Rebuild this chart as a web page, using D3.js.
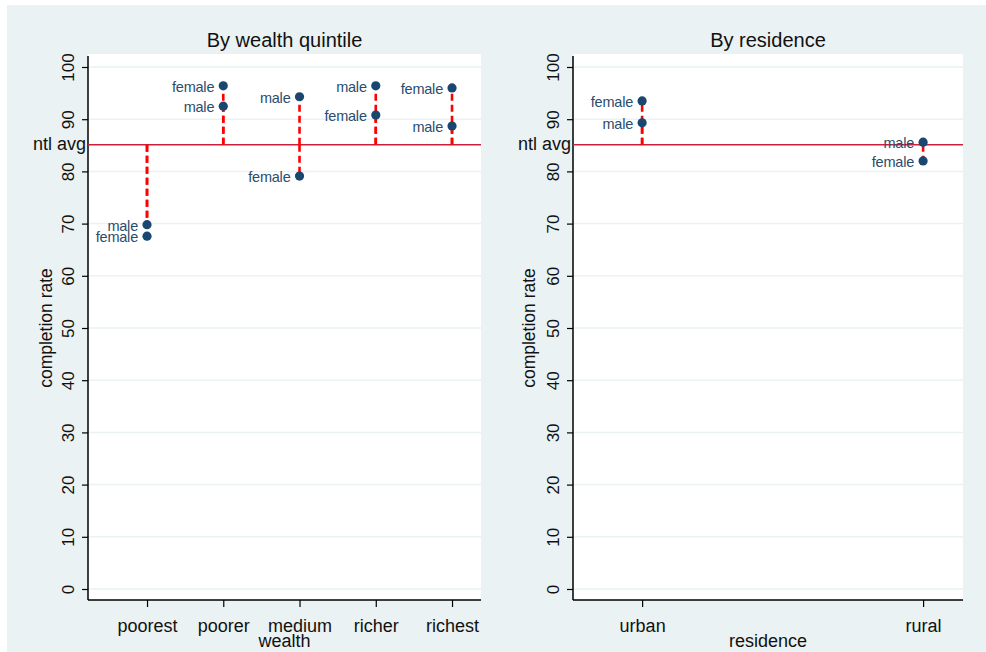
<!DOCTYPE html>
<html><head><meta charset="utf-8">
<script src="https://cdn.jsdelivr.net/npm/d3@7"></script>
<style>body{margin:0;background:#fff}svg{display:block}text{font-family:Arial,"Liberation Sans",sans-serif}</style>
</head><body><svg id="c" width="986" height="652"></svg>
<script>
// ---- data ----
const wealthCats = ["poorest","poorer","medium","richer","richest"];
const wealthMale = [69.8, 92.5, 94.3, 96.4, 88.7];
const wealthFemale = [67.6, 96.4, 79.1, 90.8, 96.0];
const resCats = ["urban","rural"];
const resMale = [89.3, 85.6];
const resFemale = [93.5, 82.0];
const ntlAvg = 85.1;
const yTicks = [0,10,20,30,40,50,60,70,80,90,100];

const svg = d3.select("#c");
svg.append("rect").attr("x",7).attr("y",5).attr("width",979).attr("height",647).attr("fill","#eaf2f3");

const yScale = d3.scaleLinear().domain([0,100]).range([589,67]);
const plotTop = 54, plotBottom = 600;

function panel(opt){
  const {x0,x1,dom,cats,male,female,title,xtitle,ytitleX} = opt;
  const x = d3.scaleLinear().domain(dom).range([x0,x1]);
  const g = svg.append("g");
  g.append("rect").attr("x",x0).attr("y",plotTop).attr("width",x1-x0).attr("height",plotBottom-plotTop).attr("fill","#fff");
  // grid
  g.selectAll(".grid").data(yTicks).enter().append("line")
    .attr("x1",x0).attr("x2",x1).attr("y1",d=>yScale(d)).attr("y2",d=>yScale(d))
    .attr("stroke","#eaf2f3").attr("stroke-width",1.5);
  // y axis
  const ya = g.append("g").attr("transform",`translate(${x0},0)`)
    .call(d3.axisLeft(yScale).tickValues(yTicks).tickSize(6).tickPadding(3));
  ya.select(".domain").remove();
  ya.selectAll(".tick line").attr("stroke","#000").attr("stroke-width",1.2);
  ya.selectAll(".tick text").attr("transform","rotate(-90)").attr("text-anchor","middle")
    .attr("x",0).attr("y",-14).attr("dy","0").attr("font-size",17).attr("fill","#111");
  g.append("line").attr("x1",x0).attr("x2",x0).attr("y1",plotTop+2).attr("y2",plotBottom).attr("stroke","#000").attr("stroke-width",1.5);
  // x axis
  const idx = cats.map((c,i)=>i+1);
  const xa = g.append("g").attr("transform",`translate(0,${plotBottom})`)
    .call(d3.axisBottom(x).tickValues(idx).tickFormat(d=>cats[d-1]).tickSize(7).tickPadding(12));
  xa.select(".domain").remove();
  xa.selectAll(".tick line").attr("stroke","#000").attr("stroke-width",1.2);
  xa.selectAll(".tick text").attr("font-size",18).attr("fill","#111");
  g.append("line").attr("x1",x0).attr("x2",x1).attr("y1",plotBottom).attr("y2",plotBottom).attr("stroke","#000").attr("stroke-width",1.5);
  // ntl avg
  g.append("line").attr("x1",x0).attr("x2",x1).attr("y1",yScale(ntlAvg)).attr("y2",yScale(ntlAvg))
    .attr("stroke","#c8203c").attr("stroke-width",1.5);
  g.append("text").attr("x",x0-2).attr("y",yScale(ntlAvg)+5.5).attr("text-anchor","end")
    .attr("font-size",18).attr("fill","#111").text("ntl avg");
  // spikes
  const pts = [];
  cats.forEach((c,i)=>{
    pts.push({i:i+1,v:male[i],lab:"male"});
    pts.push({i:i+1,v:female[i],lab:"female"});
  });
  g.selectAll(".spike").data(pts).enter().append("line")
    .attr("x1",d=>x(d.i)).attr("x2",d=>x(d.i)).attr("y1",yScale(ntlAvg)).attr("y2",d=>yScale(d.v))
    .attr("stroke","#ff0000").attr("stroke-width",2.6).attr("stroke-dasharray","7,4");
  g.selectAll(".pt").data(pts).enter().append("circle")
    .attr("cx",d=>x(d.i)).attr("cy",d=>yScale(d.v)).attr("r",4.6).attr("fill","#1a476f");
  g.selectAll(".lab").data(pts).enter().append("text")
    .attr("x",d=>x(d.i)-9).attr("y",d=>yScale(d.v)+6).attr("text-anchor","end")
    .attr("font-size",14.5).attr("fill","#2a4d6e").attr("letter-spacing","-0.2").text(d=>d.lab);
  // titles
  g.append("text").attr("x",(x0+x1)/2).attr("y",47).attr("text-anchor","middle").attr("font-size",20).attr("fill","#111").text(title);
  g.append("text").attr("x",(x0+x1)/2).attr("y",647).attr("text-anchor","middle").attr("font-size",18).attr("fill","#111").text(xtitle);
  g.append("text").attr("transform",`translate(${ytitleX},328) rotate(-90)`).attr("text-anchor","middle")
    .attr("font-size",17.5).attr("fill","#111").text("completion rate");
}

panel({x0:88,x1:481,dom:[0.226,5.38],cats:wealthCats,male:wealthMale,female:wealthFemale,
  title:"By wealth quintile",xtitle:"wealth",ytitleX:52});
panel({x0:573,x1:963,dom:[0.754,2.142],cats:resCats,male:resMale,female:resFemale,
  title:"By residence",xtitle:"residence",ytitleX:535});
</script></body></html>
